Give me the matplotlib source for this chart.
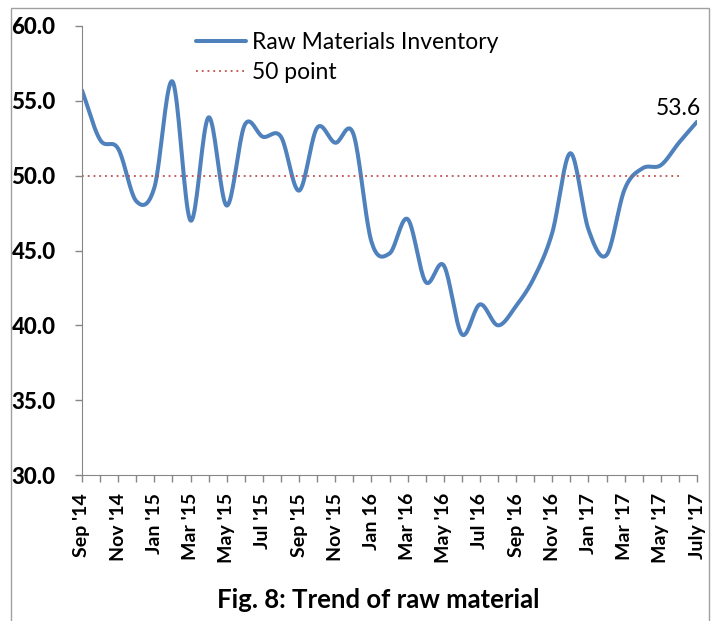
import numpy as np
import matplotlib.pyplot as plt
from matplotlib.patches import Rectangle

plt.rcParams['font.family'] = ['Lato', 'DejaVu Sans']

# monthly readings, Sep '14 .. July '17
months = ["Sep '14", "Oct '14", "Nov '14", "Dec '14", "Jan '15", "Feb '15", "Mar '15",
          "Apr '15", "May '15", "Jun '15", "Jul '15", "Aug '15", "Sep '15", "Oct '15",
          "Nov '15", "Dec '15", "Jan 16", "Feb '16", "Mar '16", "Apr '16", "May '16",
          "Jun '16", "Jul '16", "Aug '16", "Sep '16", "Oct '16", "Nov '16", "Dec '16",
          "Jan '17", "Feb '17", "Mar '17", "Apr '17", "May '17", "Jun '17", "July '17"]
inventory = [55.7, 52.4, 51.8, 48.3, 49.2, 56.3, 47.0, 53.9, 48.0, 53.4, 52.6, 52.6,
             49.0, 53.2, 52.2, 52.8, 45.6, 44.8, 47.1, 42.9, 44.0, 39.4, 41.4, 40.0,
             41.3, 43.2, 46.2, 51.5, 46.4, 44.7, 49.1, 50.5, 50.7, 52.2, 53.6]
fifty_point = [50.0] * (len(months) - 1)


def smooth(x, y, n=20):
    # Excel-style smoothed line (Catmull-Rom through the points)
    x = np.asarray(x, float)
    y = np.asarray(y, float)
    px = np.concatenate([[2 * x[0] - x[1]], x, [2 * x[-1] - x[-2]]])
    py = np.concatenate([[2 * y[0] - y[1]], y, [2 * y[-1] - y[-2]]])
    xs, ys = [], []
    t = np.linspace(0, 1, n, endpoint=False)
    for i in range(1, len(px) - 2):
        for p, out in ((px, xs), (py, ys)):
            p0, p1, p2, p3 = p[i - 1], p[i], p[i + 1], p[i + 2]
            out.extend(0.5 * ((2 * p1) + (-p0 + p2) * t
                              + (2 * p0 - 5 * p1 + 4 * p2 - p3) * t ** 2
                              + (-p0 + 3 * p1 - 3 * p2 + p3) * t ** 3))
    xs.append(x[-1])
    ys.append(y[-1])
    return np.array(xs), np.array(ys)


fig = plt.figure(figsize=(7.15, 6.21), dpi=100)
ax = fig.add_axes([82 / 715, 1 - 475 / 621, 615 / 715, 449 / 621])

x = np.arange(len(months))
sx, sy = smooth(x, inventory)
ax.plot(sx, sy, color='#4F81BD', lw=2.9, label='Raw Materials Inventory', solid_capstyle='round')
ax.plot(x[:len(fifty_point)], fifty_point, color='#C0504D', lw=1.3, ls=(0, (1, 2.2)), label='50 point')

ax.text(x[-1] + 0.25, inventory[-1] + 0.2, f'{inventory[-1]:.1f}', ha='right', va='bottom', fontsize=16.5)

ax.set_xlim(0, len(months) - 1)
ax.set_ylim(30, 60)
ax.set_yticks(np.arange(30, 61, 5))
ax.set_yticklabels([f'{v:.1f}' for v in np.arange(30, 61, 5)], fontweight='black', fontsize=16)
ax.set_xticks(x)
ax.set_xticklabels([m if i % 2 == 0 else '' for i, m in enumerate(months)],
                   rotation=90, fontweight='bold', fontsize=14)
ax.tick_params(axis='both', direction='out', length=5, color='#868686', width=1)
ax.tick_params(axis='y', pad=14)
ax.tick_params(axis='x', pad=8)
for s in ['top', 'right']:
    ax.spines[s].set_visible(False)
for s in ['left', 'bottom']:
    ax.spines[s].set_color('#868686')

ax.legend(loc='upper left', bbox_to_anchor=(0.17, 1.007), frameon=False, fontsize=16.5,
          handlelength=2.2, handletextpad=0.25, labelspacing=0.4, borderaxespad=0)

fig.text(378 / 715, 1 - 600 / 621, 'Fig. 8: Trend of raw material', ha='center', va='center',
         fontsize=18.5, fontweight='bold')

fig.patches.append(Rectangle((11 / 715, -0.1), 698 / 715, 1.1 - 8 / 621, transform=fig.transFigure,
                             fill=False, edgecolor='#A0A0A0', lw=1))

fig.savefig('out.png', dpi=100)
